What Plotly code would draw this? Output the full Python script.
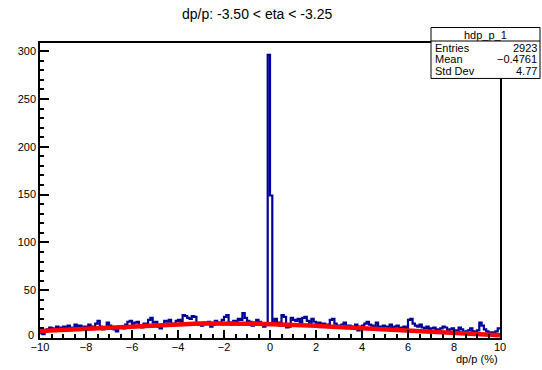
import numpy as np
import plotly.graph_objects as go

# Histogram of dp/p (%) : 200 bins from -10 to 10
x_min, x_max, n_bins = -10.0, 10.0, 200
counts = [
    5, 4, 7, 9, 11, 10, 8, 12, 9, 11,
    12, 10, 13, 11, 9, 14, 12, 13, 10, 12,
    11, 14, 12, 10, 15, 18, 12, 9, 11, 16,
    13, 10, 9, 7, 11, 12, 10, 14, 17, 18,
    13, 16, 17, 12, 11, 15, 13, 19, 21, 16,
    17, 12, 10, 14, 18, 17, 19, 13, 15, 18,
    19, 17, 24, 23, 21, 20, 23, 22, 14, 15,
    13, 16, 15, 17, 12, 14, 18, 16, 15, 19,
    22, 24, 16, 14, 18, 17, 20, 19, 26, 21,
    18, 17, 13, 16, 19, 17, 15, 12, 14, 296,
    149, 14, 20, 16, 13, 24, 22, 11, 12, 21,
    19, 18, 20, 16, 21, 22, 18, 15, 20, 17,
    14, 16, 12, 15, 13, 14, 19, 20, 15, 13,
    12, 14, 16, 11, 13, 12, 10, 14, 8, 12,
    13, 15, 17, 14, 13, 12, 16, 12, 11, 13,
    12, 11, 14, 10, 12, 13, 9, 11, 12, 10,
    19, 20, 15, 13, 12, 14, 11, 10, 12, 9,
    10, 11, 9, 8, 10, 12, 11, 7, 9, 10,
    8, 7, 11, 9, 6, 7, 8, 10, 7, 6,
    8, 16, 13, 9, 7, 5, 6, 4, 7, 10,
]

# Gaussian fit parameters (constant, mean, sigma)
fit_const, fit_mean, fit_sigma = 15.3, -2.0, 6.6

# Statistics box
stats_name = "hdp_p_1"
stats_rows = [("Entries", "2923"), ("Mean", "\u22120.4761"), ("Std Dev", "4.77")]

title_text = "dp/p: -3.50 < eta < -3.25"
x_title = "dp/p (%)"
x_ticks = [-10, -8, -6, -4, -2, 0, 2, 4, 6, 8, 10]
y_ticks = [0, 50, 100, 150, 200, 250, 300]

edges = np.linspace(x_min, x_max, n_bins + 1)
step_y = list(counts) + [counts[-1]]

fx = np.linspace(x_min, x_max, 400)
fy = fit_const * np.exp(-0.5 * ((fx - fit_mean) / fit_sigma) ** 2)

W, H = 542, 370
L, R, T, B = 40, 500, 42.5, 338
pw, ph = R - L, B - T


def px(x):
    return (x - L) / pw


def py(y):
    return (B - y) / ph


fig = go.Figure()
fig.add_trace(go.Scatter(
    x=edges, y=step_y, mode="lines", line_shape="hv",
    line=dict(color="#000099", width=2.2), hoverinfo="skip", showlegend=False,
))
fig.add_trace(go.Scatter(
    x=fx, y=fy, mode="lines",
    line=dict(color="#ff0000", width=4.5), hoverinfo="skip", showlegend=False,
))

font = "Liberation Sans, Arial, Helvetica, sans-serif"
fig.update_layout(
    width=W, height=H,
    margin=dict(l=L, r=W - R, t=T, b=H - B, pad=0),
    paper_bgcolor="white", plot_bgcolor="white",
    font=dict(family=font, size=11, color="black"),
    xaxis=dict(
        range=[x_min, x_max], tickvals=x_ticks,
        ticktext=[("\u2212" + str(-v)) if v < 0 else str(v) for v in x_ticks],
        ticks="inside", ticklen=8, tickwidth=1.5, tickcolor="black",
        minor=dict(ticks="inside", ticklen=4, dtick=0.5, tick0=0, tickcolor="black", tickwidth=1.5),
        showline=True, linecolor="black", linewidth=1.5, mirror=True,
        showgrid=False, zeroline=False, tickfont=dict(size=11),
        ticklabelstandoff=-2,
    ),
    yaxis=dict(
        range=[0, 308.5], tickvals=y_ticks,
        # the zero label is lifted slightly above the x labels (drawn below)
        ticktext=["" if v == 0 else str(v) for v in y_ticks],
        ticks="inside", ticklen=9, tickwidth=1.5, tickcolor="black",
        minor=dict(ticks="inside", ticklen=4.5, dtick=10, tick0=0, tickcolor="black", tickwidth=1.5),
        showline=True, linecolor="black", linewidth=1.5, mirror=True,
        showgrid=False, zeroline=False, tickfont=dict(size=11),
    ),
)

fig.add_annotation(xref="paper", yref="paper", x=px(36), y=py(334.5),
                   text=str(y_ticks[0]), showarrow=False, xanchor="right", yanchor="middle",
                   font=dict(size=11))

# Axis title, right aligned under the x axis
fig.add_annotation(xref="paper", yref="paper", x=px(500), y=py(359),
                   text=x_title, showarrow=False, xanchor="right", yanchor="middle",
                   font=dict(size=11))

# Title
fig.add_annotation(xref="paper", yref="paper", x=px(257), y=py(13),
                   text=title_text, showarrow=False, xanchor="center", yanchor="middle",
                   font=dict(size=14))

# Statistics box
bx0, bx1, by0, by1 = 431, 540, 27, 78
fig.add_shape(type="rect", xref="paper", yref="paper",
              x0=px(bx0), x1=px(bx1), y0=py(by1), y1=py(by0),
              line=dict(color="black", width=1), fillcolor="white", layer="above")
fig.add_shape(type="line", xref="paper", yref="paper",
              x0=px(bx0), x1=px(bx1), y0=py(40.5), y1=py(40.5),
              line=dict(color="black", width=1), layer="above")
fig.add_annotation(xref="paper", yref="paper", x=px((bx0 + bx1) / 2), y=py(34),
                   text=stats_name, showarrow=False, xanchor="center", yanchor="middle",
                   font=dict(size=11))
for i, (k, v) in enumerate(stats_rows):
    yy = py(47.5 + 11.5 * i)
    fig.add_annotation(xref="paper", yref="paper", x=px(433), y=yy, text=k,
                       showarrow=False, xanchor="left", yanchor="middle", font=dict(size=11))
    fig.add_annotation(xref="paper", yref="paper", x=px(539), y=yy, text=v,
                       showarrow=False, xanchor="right", yanchor="middle", font=dict(size=11))

fig.write_html("out.html")
